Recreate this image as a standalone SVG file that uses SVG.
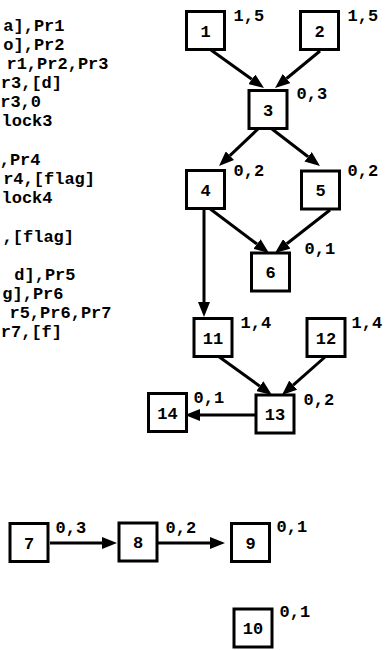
<svg xmlns="http://www.w3.org/2000/svg" width="385" height="650" viewBox="0 0 385 650">
<style>
text{font-family:"Liberation Mono","Courier New",monospace;font-weight:bold;font-size:17px;fill:#000}
.code{text-anchor:end}
.n rect{fill:#fff;stroke:#000;stroke-width:3}
.n .id{text-anchor:middle}
.e line{stroke:#000;stroke-width:3;marker-end:url(#ah)}
</style>
<defs>
<marker id="ah" markerUnits="userSpaceOnUse" markerWidth="15" markerHeight="12" viewBox="0 0 15 12" refX="0" refY="6" orient="auto">
<path d="M0,0 L15,6 L0,12 z" fill="#000"/>
</marker>
</defs>
<rect width="385" height="650" fill="#fff"/>
<g id="code">
<text class="code" x="64.5" y="31">a],Pr1</text>
<text class="code" x="64.5" y="50">o],Pr2</text>
<text class="code" x="108.5" y="69">r1,Pr2,Pr3</text>
<text class="code" x="62" y="88">r3,[d]</text>
<text class="code" x="41" y="107">r3,0</text>
<text class="code" x="52.5" y="126">lock3</text>
<text class="code" x="40.5" y="165">,Pr4</text>
<text class="code" x="95" y="184">r4,[flag]</text>
<text class="code" x="52.5" y="203">lock4</text>
<text class="code" x="74" y="242">,[flag]</text>
<text class="code" x="75.5" y="280">d],Pr5</text>
<text class="code" x="63.5" y="299">g],Pr6</text>
<text class="code" x="111.5" y="318">r5,Pr6,Pr7</text>
<text class="code" x="62" y="337">r7,[f]</text>
</g>
<g id="edges" class="e">
<line x1="211" y1="50" x2="251.8" y2="79.3"/>
<line x1="320" y1="51" x2="286.6" y2="78.5"/>
<line x1="258" y1="129" x2="229.9" y2="155.7"/>
<line x1="272" y1="129" x2="308.1" y2="156.8"/>
<line x1="209" y1="208" x2="257" y2="244"/>
<line x1="330" y1="210" x2="286.8" y2="243.8"/>
<line x1="204" y1="209" x2="204" y2="302"/>
<line x1="218" y1="356" x2="259.8" y2="386.2"/>
<line x1="325" y1="357" x2="293.2" y2="385.1"/>
<line x1="258" y1="415" x2="200" y2="415"/>
<line x1="50" y1="543" x2="102" y2="543"/>
<line x1="158" y1="543" x2="210" y2="543"/>
</g>
<g id="node1" class="n"><rect x="186.5" y="11.5" width="38" height="38"/><text class="id" x="205.5" y="36.5">1</text><text x="233.5" y="20.5">1,5</text></g>
<g id="node2" class="n"><rect x="300.5" y="11.5" width="38" height="38"/><text class="id" x="319.5" y="36.5">2</text><text x="347.5" y="20.5">1,5</text></g>
<g id="node3" class="n"><rect x="249" y="90.5" width="38" height="38"/><text class="id" x="268" y="115.5">3</text><text x="296.5" y="99">0,3</text></g>
<g id="node4" class="n"><rect x="186.5" y="170.5" width="38" height="38"/><text class="id" x="205.5" y="195.5">4</text><text x="233.5" y="176">0,2</text></g>
<g id="node5" class="n"><rect x="301.5" y="171" width="38" height="38"/><text class="id" x="320.5" y="196">5</text><text x="347.5" y="176">0,2</text></g>
<g id="node6" class="n"><rect x="251.5" y="253" width="38" height="38"/><text class="id" x="270.5" y="278">6</text><text x="304.5" y="254">0,1</text></g>
<g id="node11" class="n"><rect x="194" y="318.5" width="38" height="38"/><text class="id" x="213" y="343.5">11</text><text x="240.5" y="328">1,4</text></g>
<g id="node12" class="n"><rect x="307" y="318.5" width="38" height="38"/><text class="id" x="326" y="343.5">12</text><text x="351.5" y="328">1,4</text></g>
<g id="node13" class="n"><rect x="256" y="395" width="38" height="38"/><text class="id" x="275" y="420">13</text><text x="303.5" y="405">0,2</text></g>
<g id="node14" class="n"><rect x="148.5" y="393.5" width="38" height="38"/><text class="id" x="167.5" y="418.5">14</text><text x="193.5" y="403">0,1</text></g>
<g id="node7" class="n"><rect x="10" y="523.5" width="38" height="38"/><text class="id" x="29" y="548.5">7</text><text x="55.5" y="533">0,3</text></g>
<g id="node8" class="n"><rect x="119" y="523" width="38" height="38"/><text class="id" x="138" y="548">8</text><text x="165.5" y="533">0,2</text></g>
<g id="node9" class="n"><rect x="231.5" y="523.5" width="38" height="38"/><text class="id" x="250.5" y="548.5">9</text><text x="276.5" y="532">0,1</text></g>
<g id="node10" class="n"><rect x="234" y="609" width="38" height="38"/><text class="id" x="253" y="634">10</text><text x="279.5" y="617">0,1</text></g>
</svg>
